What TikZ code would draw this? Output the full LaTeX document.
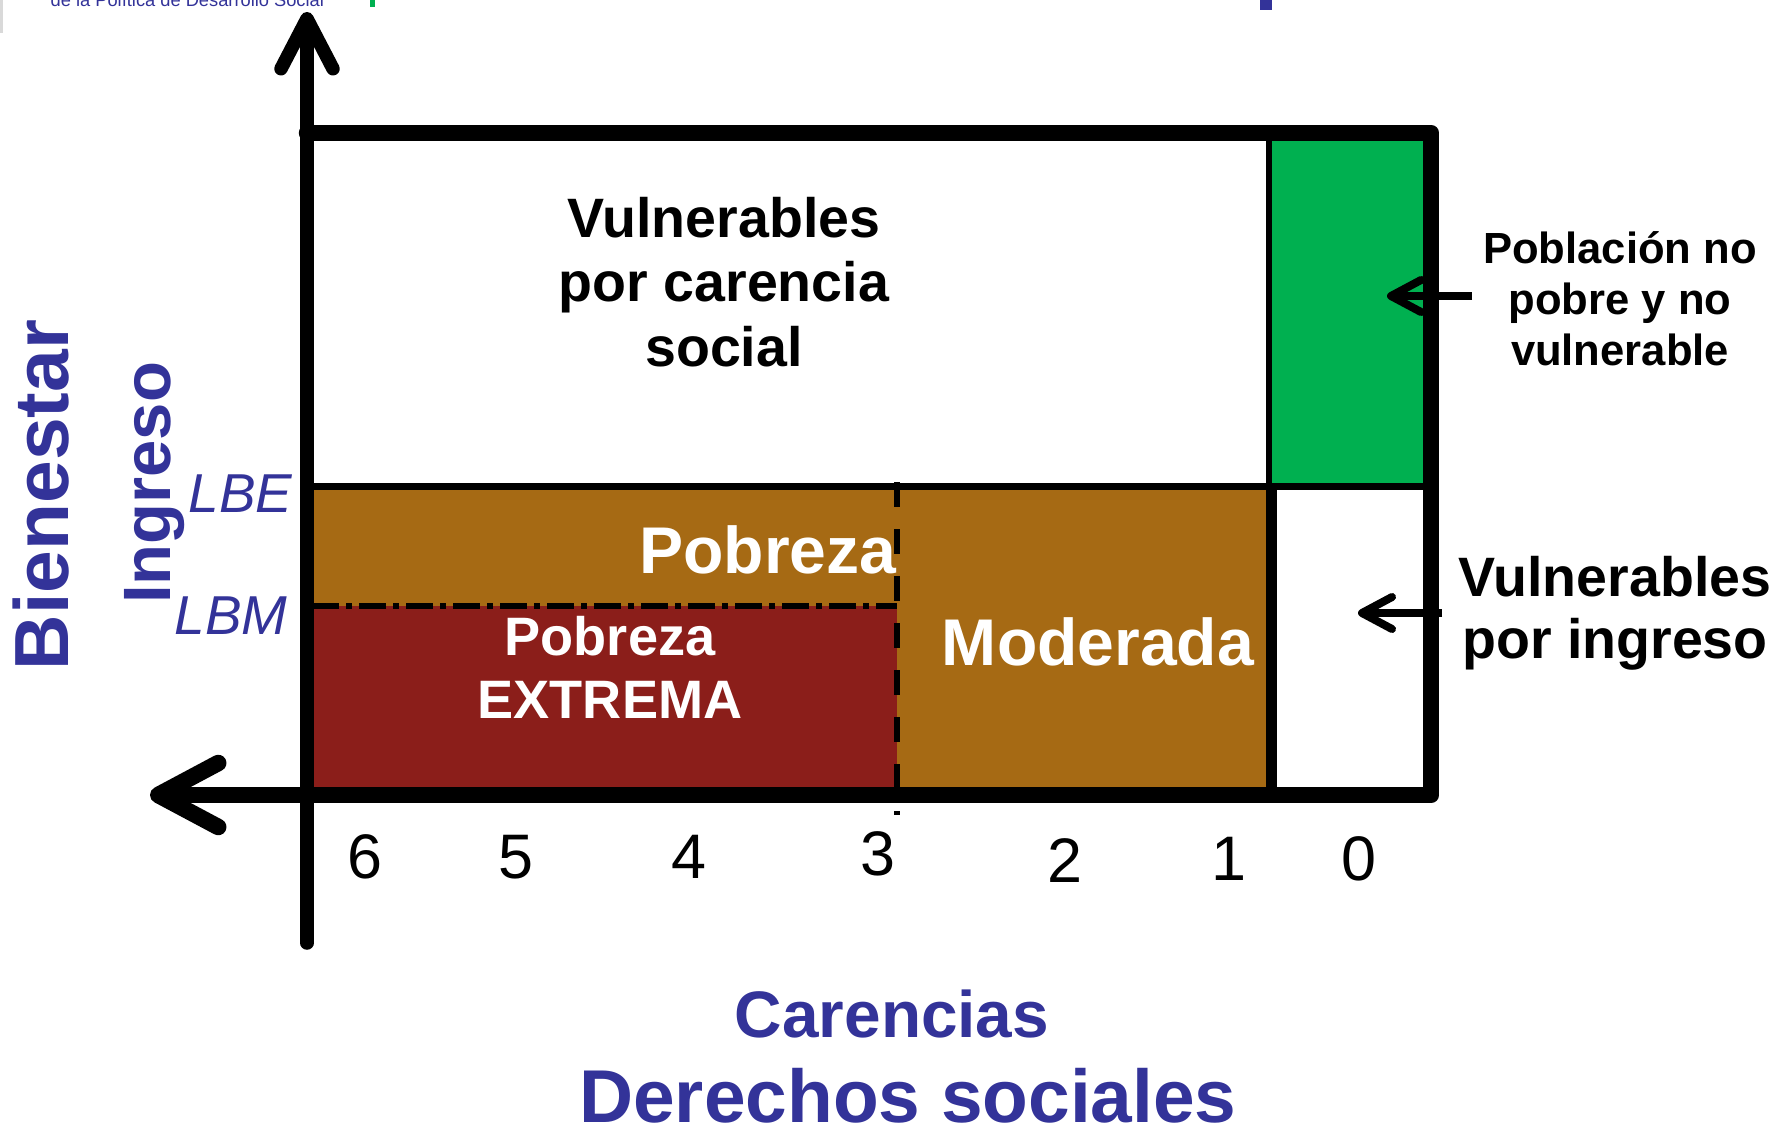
\documentclass[tikz,border=0pt]{standalone}
\usepackage{fontspec}
\setmainfont{Liberation Sans}
\usetikzlibrary{arrows.meta}
\definecolor{azul}{RGB}{51,51,153}
\definecolor{cafe}{RGB}{166,106,20}
\definecolor{vino}{RGB}{139,30,26}
\definecolor{verde}{RGB}{0,176,80}
\newcommand{\tam}[2]{\fontsize{#1}{#2}\selectfont}
\tikzset{
	texto/.style={inner sep=0pt, align=center},
	eje/.style={line cap=round, line join=round},
	flechita/.style={line width=0.8mm, -{Straight Barb[length=3mm, width=3.2mm, line cap=round, line join=round]}},
}
\begin{document}
\begin{tikzpicture}[x=0.1mm, y=-0.1mm]
	\useasboundingbox (0,0) rectangle (1779,1127);
	\clip (0,0) rectangle (1779,1127);
	\draw[gray!30, line width=0.35mm] (1,0) -- (1,33);
	\node[texto, anchor=base west, text=azul, font=\tam{5.2}{6}] (logo) at (50,6.5) {de la Política de Desarrollo Social};
	\fill[verde] (370,0) rectangle (375,7);
	\fill[azul] (1260,0) rectangle (1272,10);
	\fill[verde] (1269,133) rectangle (1431,486);
	\fill[cafe] (307,486) rectangle (1271,795);
	\fill[vino] (307,606) rectangle (897,795);
	\draw[line width=0.7mm] (307,486) -- (1431,486);
	\draw[line width=0.65mm] (1269,133) -- (1269,486);
	\draw[line width=1.1mm] (1271.5,486) -- (1271.5,795);
	\draw[line width=0.6mm, dash pattern=on 2.7mm off 0.7mm on 0.6mm off 0.7mm] (312,606) -- (897,606);
	\draw[line width=0.65mm, dash pattern=on 2.5mm off 2.2mm] (897,482) -- (897,815);
	\draw[eje, line width=1.65mm, -{Straight Barb[length=6mm, width=6.4mm, line cap=round, line join=round]}] (307,133) -- (1431,133) -- (1431,795) -- (150,795);
	\draw[eje, line width=1.35mm, -{Straight Barb[length=5mm, width=5.2mm, line cap=round, line join=round]}] (307,943) -- (307,12);
	\node[texto, rotate=90, anchor=base, text=azul, font=\bfseries\tam{21.85}{24}] (bienestar) at (68,495) {Bienestar};
	\node[texto, rotate=90, anchor=base, text=azul, font=\bfseries\tam{19.06}{21}] (ingreso) at (170,483) {Ingreso};
	\node[texto, anchor=base east, text=azul, font=\itshape\tam{15.6}{18}] (lbe) at (293,512) {LBE};
	\node[texto, anchor=base east, text=azul, font=\itshape\tam{15.6}{18}] (lbm) at (288,634) {LBM};
	\node[texto, anchor=base, font=\bfseries\tam{15.8}{18.3}] (carencia) at (724,366) {Vulnerables\\por carencia\\social};
	\node[texto, anchor=base, font=\bfseries\tam{12.4}{14.5}] (nopobre) at (1620,365) {Población no\\pobre y no\\vulnerable};
	\node[texto, anchor=base, font=\bfseries\tam{15.8}{17.4}] (poringreso) at (1615,658) {Vulnerables\\por ingreso};
	\node[texto, anchor=base east, text=white, font=\bfseries\tam{18.8}{20}] (pobreza) at (897,573) {Pobreza};
	\node[texto, anchor=base, text=white, font=\bfseries\tam{15.4}{17.9}] (extrema) at (610,718) {Pobreza\\EXTREMA};
	\node[texto, anchor=base, text=white, font=\bfseries\tam{18.8}{20}] (moderada) at (1098,665) {Moderada};
	\foreach \n/\x/\y in {6/365/878, 5/516/878, 4/689/878, 3/878/875, 2/1065/882, 1/1229/880, 0/1359/880}
		\node[texto, anchor=base, font=\tam{17.9}{20}] (c\n) at (\x,\y) {\n};
	\node[texto, anchor=base, text=azul, font=\bfseries\tam{18.7}{21}] (carencias) at (892,1037) {Carencias};
	\node[texto, anchor=base, text=azul, font=\bfseries\tam{21.3}{24}] (derechos) at (908,1122) {Derechos sociales};
	\coordinate (verdeini) at (1472,296);
	\coordinate (verdefin) at (1387,296);
	\coordinate (blancoini) at (1442,613);
	\coordinate (blancofin) at (1358,613);
	\draw[flechita] (verdeini) -- (verdefin);
	\draw[flechita] (blancoini) -- (blancofin);
\end{tikzpicture}
\end{document}
